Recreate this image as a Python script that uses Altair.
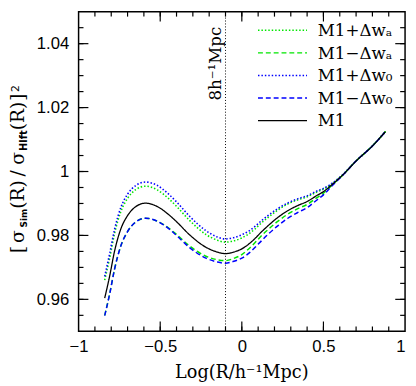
import altair as alt
import pandas as pd

# ---- data ----
x_vals = [-0.84, -0.81, -0.78, -0.74, -0.70, -0.65, -0.59, -0.52, -0.45, -0.40, -0.32, -0.22,
          -0.15, -0.10, -0.05, 0.00, 0.04, 0.08, 0.12, 0.16, 0.22, 0.28, 0.34, 0.40, 0.46, 0.50,
          0.55, 0.62, 0.70, 0.80, 0.88]
m1 = [0.9604, 0.9672, 0.9750, 0.9822, 0.9862, 0.9890, 0.9901, 0.9891, 0.9866, 0.9843, 0.9802, 0.9763,
      0.9748, 0.9743, 0.9748, 0.9758, 0.9772, 0.9790, 0.9811, 0.9830, 0.9856, 0.9877, 0.9893, 0.9906,
      0.9925, 0.9937, 0.9958, 0.9990, 1.0033, 1.0080, 1.0125]
m1_plus_w0 = [0.9672, 0.9742, 0.9818, 0.9889, 0.9929, 0.9956, 0.9967, 0.9957, 0.9930, 0.9905, 0.9860, 0.9815,
              0.9795, 0.9789, 0.9793, 0.9802, 0.9813, 0.9828, 0.9846, 0.9862, 0.9884, 0.9901, 0.9914, 0.9924,
              0.9939, 0.9947, 0.9962, 0.9991, 1.0033, 1.0080, 1.0125]
m1_plus_wa = [0.9660, 0.9728, 0.9805, 0.9876, 0.9916, 0.9943, 0.9954, 0.9943, 0.9916, 0.9891, 0.9847, 0.9803,
              0.9785, 0.9779, 0.9783, 0.9792, 0.9804, 0.9820, 0.9839, 0.9856, 0.9879, 0.9898, 0.9911, 0.9921,
              0.9936, 0.9945, 0.9961, 0.9991, 1.0033, 1.0080, 1.0125]
m1_minus_wa = [0.9550, 0.9616, 0.9694, 0.9769, 0.9812, 0.9842, 0.9854, 0.9845, 0.9824, 0.9803, 0.9767, 0.9735,
               0.9724, 0.9721, 0.9728, 0.9740, 0.9757, 0.9777, 0.9799, 0.9818, 0.9844, 0.9866, 0.9883, 0.9897,
               0.9918, 0.9932, 0.9956, 0.9990, 1.0033, 1.0080, 1.0125]
m1_minus_w0 = [0.9549, 0.9616, 0.9694, 0.9769, 0.9812, 0.9842, 0.9854, 0.9845, 0.9822, 0.9800, 0.9762, 0.9729,
               0.9717, 0.9713, 0.9719, 0.9729, 0.9743, 0.9762, 0.9783, 0.9803, 0.9830, 0.9853, 0.9871, 0.9887,
               0.9911, 0.9927, 0.9954, 0.9989, 1.0033, 1.0080, 1.0125]

series_names = ["M1+Δwa", "M1−Δwa", "M1+Δw0", "M1−Δw0", "M1"]
series_values = [m1_plus_wa, m1_minus_wa, m1_plus_w0, m1_minus_w0, m1]
legend_labels = ["M1+Δwₐ", "M1−Δwₐ", "M1+Δw₀", "M1−Δw₀", "M1"]
x_tick_labels = [-1, -0.5, 0, 0.5, 1]
y_tick_labels = [0.96, 0.98, 1.0, 1.02, 1.04]
vline_x = [-0.1]

# ---- styles ----
colors = ["#00e600", "#00e600", "#0000ff", "#0000ff", "#000000"]
dashes = [[1.5, 2], [5, 3], [1.5, 2], [5, 3], [1, 0]]
widths = [1.6, 1.5, 1.6, 1.5, 1.3]

W, H = 333, 326
xscale = alt.Scale(domain=[-1, 1], nice=False, zero=False)
yscale = alt.Scale(domain=[0.95, 1.05], nice=False, zero=False)

xaxis = alt.Axis(values=x_tick_labels, format="~g", ticks=False, tickSize=0, domain=False, grid=False,
                 labelFont="Liberation Sans", labelFontSize=17, labelPadding=8, labelFlush=False,
                 labelAlign={"condition": {"test": "datum.value >= 1", "value": "right"}, "value": "center"},
                 labelColor="black", title=None, labelOverlap=False)
yaxis = alt.Axis(values=y_tick_labels, format="~g", ticks=False, tickSize=0, domain=False, grid=False,
                 labelFont="Liberation Sans", labelFontSize=17, labelPadding=10, labelColor="black",
                 title=None, labelOverlap=False)


def X(f):
    return alt.X(f, scale=xscale, axis=xaxis)


def Y(f):
    return alt.Y(f, scale=yscale, axis=yaxis)


rows = []
for name, ys in zip(series_names, series_values):
    for xv, yv in zip(x_vals, ys):
        rows.append({"x": xv, "y": yv, "s": name})
df = pd.DataFrame(rows)

layers = []
for name, c, d, w in zip(series_names, colors, dashes, widths):
    sub = df[df.s == name]
    layers.append(
        alt.Chart(sub).mark_line(interpolate="monotone", color=c, strokeDash=d, strokeWidth=w).encode(
            x=X("x:Q"), y=Y("y:Q"))
    )

# vertical dotted line at 8 h^-1 Mpc
layers.append(
    alt.Chart(pd.DataFrame({"x": vline_x})).mark_rule(color="black", strokeDash=[1, 2], strokeWidth=1).encode(
        x=X("x:Q"))
)
layers.append(
    alt.Chart(pd.DataFrame({"x": vline_x, "t": ["8h⁻¹Mpc"]})).mark_text(
        angle=270, align="center", baseline="alphabetic", dy=-5, font="DejaVu Serif", fontSize=17,
        color="black").encode(x=X("x:Q"), y=alt.value(53), text="t:N")
)

# inward ticks on all four sides
x_minor = [round(-0.9 + 0.1 * i, 2) for i in range(19)]
x_major = [-0.5, 0, 0.5]
y_minor = [round(0.955 + 0.005 * i, 3) for i in range(19)]
y_major = y_tick_labels
for vals, L in ((x_minor, 5), (x_major, 10)):
    d = pd.DataFrame({"x": vals})
    layers.append(alt.Chart(d).mark_rule(color="black", strokeWidth=1.2).encode(
        x=X("x:Q"), y=alt.value(H), y2=alt.value(H - L)))
    layers.append(alt.Chart(d).mark_rule(color="black", strokeWidth=1.2).encode(
        x=X("x:Q"), y=alt.value(0), y2=alt.value(L)))
for vals, L in ((y_minor, 5), (y_major, 10)):
    d = pd.DataFrame({"y": vals})
    layers.append(alt.Chart(d).mark_rule(color="black", strokeWidth=1.2).encode(
        y=Y("y:Q"), x=alt.value(0), x2=alt.value(L)))
    layers.append(alt.Chart(d).mark_rule(color="black", strokeWidth=1.2).encode(
        y=Y("y:Q"), x=alt.value(W), x2=alt.value(W - L)))


def txt(s, x, y, size, font="DejaVu Serif", weight="normal", angle=0, align="left"):
    return alt.Chart(pd.DataFrame({"t": [s]})).mark_text(
        font=font, fontSize=size, fontWeight=weight, angle=angle, align=align,
        baseline="alphabetic", color="black").encode(x=alt.value(x), y=alt.value(y), text="t:N")


# legend (pixel layout)
for i in range(len(series_names)):
    ry = 19 + 23 * i
    layers.append(alt.Chart(pd.DataFrame({"a": [0]})).mark_rule(
        color=colors[i], strokeDash=dashes[i], strokeWidth=widths[i]).encode(
        x=alt.value(183), x2=alt.value(233), y=alt.value(ry)))
    layers.append(txt(legend_labels[i], 244, ry + 6, 17))

# x title
layers.append(txt("Log(R/h⁻¹Mpc)", W / 2, 374, 18, align="center"))

# y title pieces (rotated)
ybase, sbase = -56, -53
for s, yy, xx, size, font, weight in [
    ("[", 246, ybase, 19, "DejaVu Serif", "normal"),
    ("σ", 236, ybase, 19, "DejaVu Serif", "normal"),
    ("Sim", 220, sbase, 9, "DejaVu Sans", "bold"),
    ("(R)", 201, ybase, 19, "DejaVu Serif", "normal"),
    ("/", 168, ybase, 19, "DejaVu Serif", "normal"),
    ("σ", 156, ybase, 19, "DejaVu Serif", "normal"),
    ("Hlft", 142, sbase, 10, "DejaVu Sans", "bold"),
    ("(R)", 121, ybase, 19, "DejaVu Serif", "normal"),
    ("]", 91, ybase, 19, "DejaVu Serif", "normal"),
    ("2", 82, -61, 11, "DejaVu Sans", "normal"),
]:
    layers.append(txt(s, xx, yy, size, font=font, weight=weight, angle=270))

chart = alt.layer(*layers).properties(
    width=W, height=H,
    autosize=alt.AutoSizeParams(type="none"),
    padding={"left": 72, "top": 0, "right": 3, "bottom": 52},
    background="white",
).configure_view(stroke="black", strokeWidth=1.5)

chart.save("out.html", embed_options={"renderer": "svg", "actions": False})
